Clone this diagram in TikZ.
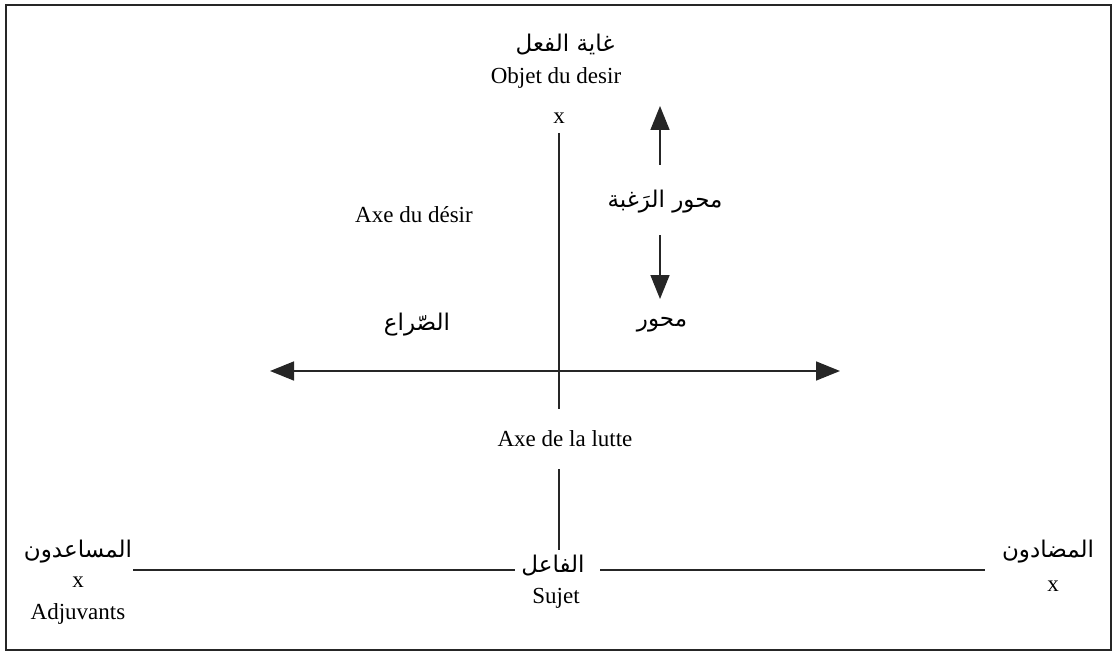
\documentclass[tikz,border=0pt]{standalone}
\usepackage{fontspec}
\setmainfont{Liberation Serif}
\newfontfamily\arabicfont[Script=Arabic]{DejaVu Sans}
\TeXXeTstate=1
\usetikzlibrary{arrows.meta}
\begin{document}
\begin{tikzpicture}[x=1pt,y=-1pt,
  lat/.style={font=\fontsize{23}{25}\selectfont, inner sep=1pt},
  ara/.style={font=\arabicfont\fontsize{23}{26}\selectfont, inner sep=1pt},
  axis/.style={line width=1.3pt, black!85},
  bigtip/.style={line width=1.6pt, black!85, -{Triangle[length=24pt,width=19pt]}},
  bigtips/.style={line width=1.6pt, black!85, {Triangle[length=24pt,width=19pt]}-{Triangle[length=24pt,width=19pt]}}]
\useasboundingbox (0,0) rectangle (1115,655);
\draw[line width=1.8pt, black!85] (6,5) rectangle (1111,650);

% top labels
\node[ara] (but) at (565,45) {\beginR غاية الفعل\endR};
\node[lat] (objet) at (556,78) {Objet du desir};
\node[lat] (xtop) at (559,118) {x};

% desire axis labels
\node[lat] (axedesir) at (414,215) {Axe du désir};
\node[ara] (mihwar1) at (665,202) {\beginR محور الرَغبة\endR};
\coordinate (upstart) at (660,165);
\coordinate (uptip) at (660,106);
\coordinate (downstart) at (660,235);
\coordinate (downtip) at (660,299);
\draw[bigtip] (upstart) -- (uptip);
\draw[bigtip] (downstart) -- (downtip);

% struggle labels
\node[ara] (sira) at (417,325) {\beginR الصّراع\endR};
\node[ara] (mihwar2) at (662,325) {\beginR محور\endR};
\coordinate (hl) at (270,371);
\coordinate (hr) at (840,371);
\draw[bigtips] (hl) -- (hr);

% vertical axis
\node[lat, minimum height=60pt] (lutte) at (565,439) {Axe de la lutte};
\coordinate (vtop) at (559,133);
\coordinate (vbot) at (559,550);
\draw[axis] (vtop) -- (vtop |- lutte.north);
\draw[axis] (vtop |- lutte.south) -- (vbot);

% bottom row
\node[ara] (faail) at (553,566) {\beginR الفاعل\endR};
\node[lat] (sujet) at (556,598) {Sujet};
\node[ara] (musaid) at (78,552) {\beginR المساعدون\endR};
\node[lat] (xadj) at (78,582) {x};
\node[lat] (adj) at (78,614) {Adjuvants};
\node[ara] (mudad) at (1048,552) {\beginR المضادون\endR};
\node[lat] (xopp) at (1053,586) {x};
\coordinate (ll) at (133,570);
\coordinate (lr) at (515,570);
\coordinate (rl) at (600,570);
\coordinate (rr) at (985,570);
\draw[axis] (ll) -- (lr);
\draw[axis] (rl) -- (rr);
\end{tikzpicture}
\end{document}
